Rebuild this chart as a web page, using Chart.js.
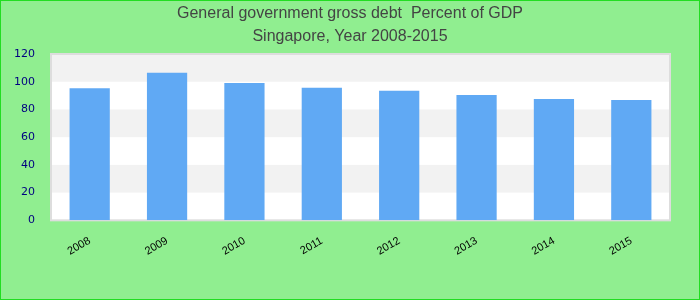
<!DOCTYPE html>
<html>
<head>
<meta charset="utf-8">
<script src="https://cdn.jsdelivr.net/npm/chart.js@4"></script>
<style>
  body { margin: 0; background: #90ee90; }
  #wrap { width: 700px; height: 300px; position: relative; }
</style>
</head>
<body>
<div id="wrap"><canvas id="debtChart" width="700" height="300"></canvas></div>
<script>
const years = ['2008', '2009', '2010', '2011', '2012', '2013', '2014', '2015'];
const debtPct = [95.3, 106.4, 99.1, 95.6, 93.4, 90.5, 87.6, 86.8];
const titleLines = ['General government gross debt  Percent of GDP', 'Singapore, Year 2008-2015'];

// page background, border and striped plot bands, title centred on the page
const bandsPlugin = {
    id: 'bands',
    beforeDraw(chart) {
        const c = chart.ctx;
        const area = chart.chartArea;
        const y = chart.scales.y;
        c.save();
        c.fillStyle = '#90ee90';
        c.fillRect(0, 0, chart.width, chart.height);
        c.strokeStyle = '#22dd22';
        c.lineWidth = 1;
        c.strokeRect(0.5, 0.5, chart.width - 1, chart.height - 1);
        c.fillStyle = '#ffffff';
        c.fillRect(area.left, area.top, area.right - area.left, area.bottom - area.top);
        const ticks = y.ticks;
        for (let i = 0; i < ticks.length - 1; i++) {
            if (i % 2 === 1) {
                const top = y.getPixelForValue(ticks[i + 1].value);
                const bot = y.getPixelForValue(ticks[i].value);
                c.fillStyle = '#f2f2f2';
                c.fillRect(area.left, top, area.right - area.left, bot - top);
            }
        }
        c.strokeStyle = '#dddddd';
        c.lineWidth = 2;
        c.strokeRect(area.left, area.top, area.right - area.left, area.bottom - area.top);

        c.fillStyle = '#444444';
        c.font = '16px "Liberation Sans"';
        c.textAlign = 'center';
        c.textBaseline = 'middle';
        titleLines.forEach((t, i) => c.fillText(t, chart.width / 2, 14 + i * 23));
        c.restore();
    }
};

const ctx = document.getElementById('debtChart').getContext('2d');
const debtChart = new Chart(ctx, {
    type: 'bar',
    data: {
        labels: years,
        datasets: [{
            data: debtPct,
            backgroundColor: '#60a9f4',
            barPercentage: 0.52,
            categoryPercentage: 1
        }]
    },
    options: {
        responsive: false,
        animation: false,
        layout: { padding: { left: 6, right: 30, top: 54, bottom: 36 } },
        plugins: {
            legend: { display: false },
            tooltip: { enabled: false },
            title: { display: false }
        },
        scales: {
            x: {
                grid: { display: false },
                border: { display: false },
                ticks: {
                    color: '#000000',
                    font: { family: 'Liberation Sans', size: 11 },
                    maxRotation: 30,
                    minRotation: 30,
                    padding: 6
                }
            },
            y: {
                min: 0,
                max: 120,
                grid: { display: false },
                border: { display: false },
                ticks: {
                    stepSize: 20,
                    color: '#000080',
                    font: { family: 'DejaVu Sans', size: 11 },
                    padding: 8
                }
            }
        }
    },
    plugins: [bandsPlugin]
});
</script>
</body>
</html>
